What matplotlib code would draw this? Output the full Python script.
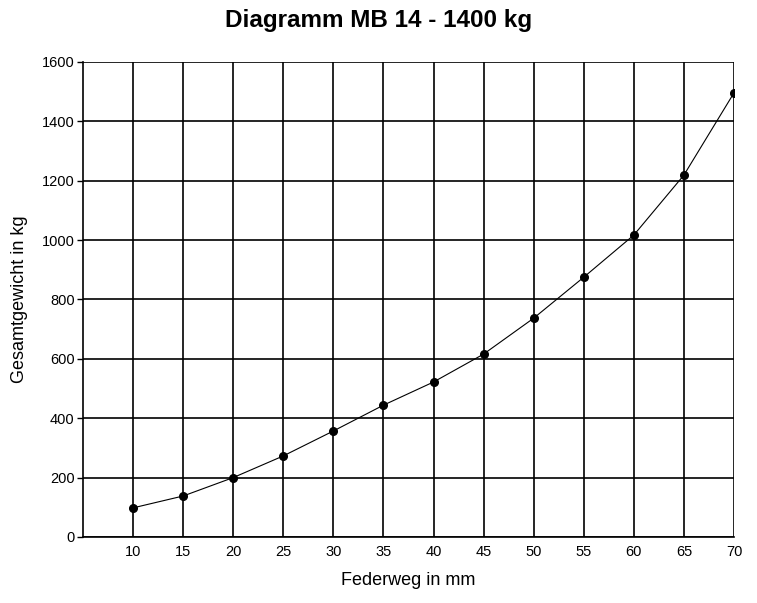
import numpy as np
import matplotlib.pyplot as plt

plt.rcParams['font.family'] = ['Liberation Sans', 'DejaVu Sans']

federweg = [10, 15, 20, 25, 30, 35, 40, 45, 50, 55, 60, 65, 70]
gewicht = [98, 138, 200, 273, 357, 444, 522, 616, 737, 875, 1017, 1219, 1496]
x_ticks = [10, 15, 20, 25, 30, 35, 40, 45, 50, 55, 60, 65, 70]
y_ticks = [0, 200, 400, 600, 800, 1000, 1200, 1400, 1600]

fig = plt.figure(figsize=(7.57, 6.03), dpi=100)
ax = fig.add_axes([0.1096, 0.1095, 0.86, 0.7877])

ax.plot(federweg, gewicht, color='black', lw=0.8, marker='o', ms=5.5)

ax.set_xlim(5, 70)
ax.set_ylim(0, 1600)
ax.set_xticks(x_ticks)
ax.set_yticks(y_ticks)
ax.grid(True, color='black', lw=1.2)
ax.set_axisbelow(True)
ax.tick_params(axis='x', length=0, pad=6, labelsize=10.5)
ax.tick_params(axis='y', length=4, width=1, pad=2, labelsize=10.5)
ax.spines['top'].set_visible(False)
ax.spines['right'].set_visible(False)
ax.spines['left'].set_linewidth(1.2)
ax.spines['bottom'].set_linewidth(1.2)

ax.set_xlabel('Federweg in mm', fontsize=13, labelpad=9)
ax.set_ylabel('Gesamtgewicht in kg', fontsize=13, labelpad=10)
fig.suptitle('Diagramm MB 14 - 1400 kg', fontsize=17.5, fontweight='bold', y=0.985)

fig.savefig('out.png', dpi=100)
